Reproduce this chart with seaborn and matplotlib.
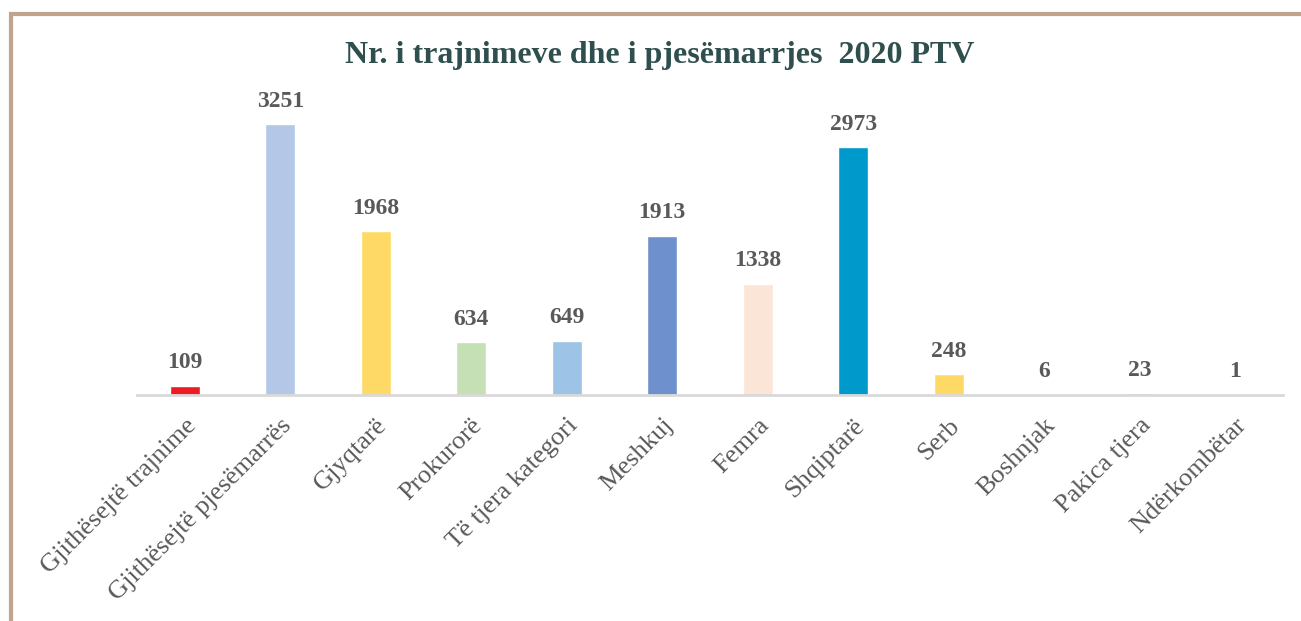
import matplotlib
matplotlib.use('Agg')
import matplotlib.pyplot as plt
import seaborn as sns
import pandas as pd
from matplotlib.patches import Rectangle

# Data
categories = ['Gjithësejtë trajnime', 'Gjithësejtë pjesëmarrës', 'Gjyqtarë', 'Prokurorë',
              'Të tjera kategori', 'Meshkuj', 'Femra', 'Shqiptarë', 'Serb', 'Boshnjak',
              'Pakica tjera', 'Ndërkombëtar']
values = [109, 3251, 1968, 634, 649, 1913, 1338, 2973, 248, 6, 23, 1]
colors = ['#ED1C24', '#B4C7E7', '#FFD966', '#C5E0B4', '#9DC3E6', '#6E90CC',
          '#FBE5D6', '#0099CC', '#FFD966', '#A5A5A5', '#9DC3E6', '#5B9BD5']

df = pd.DataFrame({'cat': categories, 'val': values})

sns.set_style('white')
plt.rcParams['font.family'] = ['Liberation Serif', 'DejaVu Serif']

fig = plt.figure(figsize=(13.01, 6.21), dpi=100)
ax = fig.add_axes([137 / 1301, 1 - 395 / 621, (1283 - 137) / 1301, (395 - 95) / 621])

sns.barplot(data=df, x='cat', y='val', hue='cat', palette=colors, legend=False,
            width=0.31, ax=ax, saturation=1)

ax.set_xlim(-0.5, len(categories) - 0.5)
ax.set_ylim(0, 3600)
ax.set_xlabel('')
ax.set_ylabel('')
ax.set_yticks([])
for s in ['top', 'right', 'left']:
    ax.spines[s].set_visible(False)
ax.spines['bottom'].set_color('#D9D9D9')
ax.spines['bottom'].set_linewidth(2)
ax.tick_params(axis='x', length=0, pad=14)
ax.set_xticks(range(len(categories)))
ax.set_xticklabels(categories, rotation=45, ha='right', rotation_mode='anchor',
                   fontsize=19, color='#595959')

for i, v in enumerate(values):
    ax.annotate(str(v), (i, v), xytext=(0, 9), textcoords='offset points',
                ha='center', va='bottom', fontsize=17, fontweight='bold', color='#595959')

fig.text(660 / 1301, 1 - 55 / 621, 'Nr. i trajnimeve dhe i pjesëmarrjes  2020 PTV',
         ha='center', va='center', fontsize=23, fontweight='bold', color='#2F4F4F')

# frame around chart (runs off the right and bottom edges)
fig.patches.append(Rectangle((11 / 1301, -0.1), 1.2, 1 - 14 / 621 + 0.1,
                             transform=fig.transFigure, fill=False,
                             edgecolor='#BFA58F', linewidth=3))

fig.savefig('out.png', dpi=100)
